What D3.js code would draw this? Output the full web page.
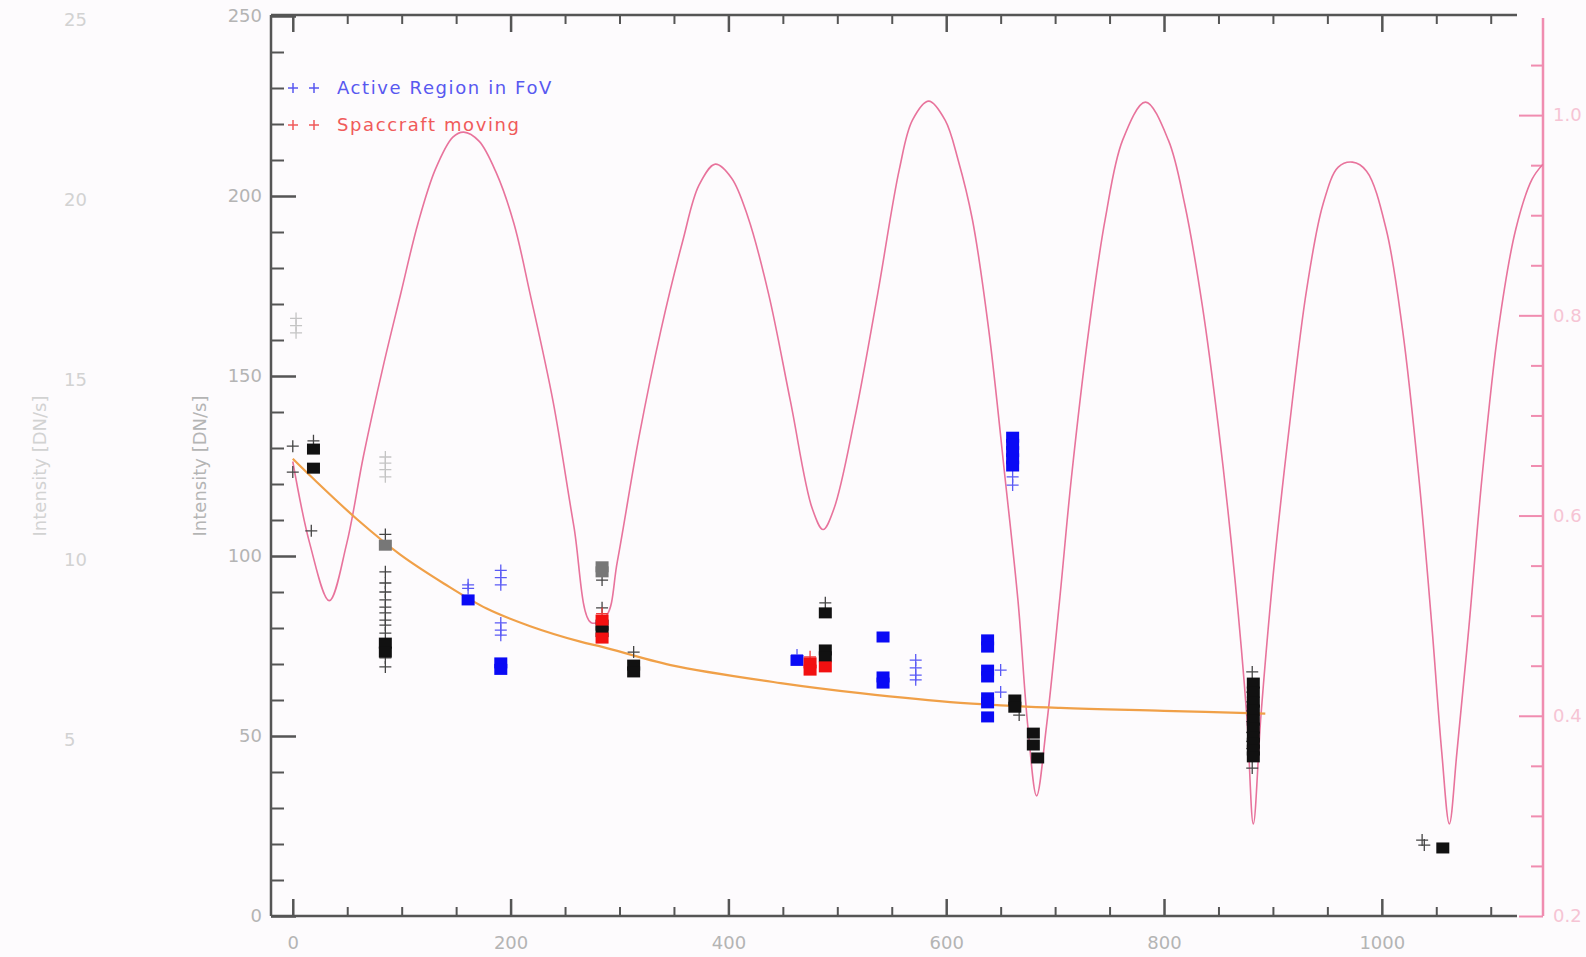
<!DOCTYPE html>
<html><head><meta charset="utf-8">
<script src="https://cdn.jsdelivr.net/npm/d3@7"></script>
<style>
html,body{margin:0;padding:0;background:#fdfbfd;}
svg{display:block;}
text{font-family:"DejaVu Sans",sans-serif;}
</style>
</head><body>
<svg id="c" width="1586" height="957"></svg>
<script>
// ---------- data ----------
const xTickValues = [0, 200, 400, 600, 800, 1000];
const yTickValues = [0, 50, 100, 150, 200, 250];
const rTickValues = [0.2, 0.4, 0.6, 0.8, 1.0];
const legendLabels = ["Active Region in FoV", "Spaccraft moving"];
const yTitle = "Intensity [DN/s]";
const ghostLabels = ["25", "20", "15", "10", "5"];
const ghostValues = [250, 200, 150, 100, 50];

// pink curve on right axis: [x, value]
const pinkCurve = [[0,0.654],[15.6,0.572],[33.5,0.515],[49.5,0.572],[65,0.66],[83,0.749],[99,0.821],[115,0.892],[131,0.946],[147,0.978],[157,0.983],[171,0.974],[187,0.942],[203,0.892],[218,0.821],[239,0.714],[258,0.59],[274,0.493],[288,0.5],[298,0.554],[318,0.679],[338,0.785],[358,0.874],[373,0.93],[388,0.951],[403,0.937],[418,0.898],[437,0.821],[457,0.714],[477,0.607],[487,0.586],[497,0.607],[516,0.697],[537,0.821],[557,0.946],[569,0.995],[584,1.014],[599,0.995],[611,0.955],[624,0.896],[639,0.786],[654,0.638],[666,0.514],[675,0.389],[683,0.32],[692,0.389],[704,0.514],[715,0.638],[731,0.786],[746,0.896],[762,0.975],[783,1.013],[804,0.975],[819,0.911],[835,0.811],[850,0.688],[865,0.538],[876,0.4],[882,0.292],[889,0.4],[900,0.538],[915,0.688],[931,0.826],[946,0.911],[960,0.948],[973,0.953],[986,0.944],[1004,0.886],[1019,0.786],[1034,0.638],[1046,0.489],[1055,0.364],[1062,0.292],[1069,0.364],[1080,0.489],[1092,0.638],[1107,0.786],[1123,0.886],[1138,0.936],[1148,0.951]];

// orange fitted decay
const fitCurve = [[0,127],[17,122],[59,110.2],[99,100.3],[139,92.3],[178,85.4],[218,80.5],[264,76.2],[285,74.7],[347,69.7],[448,64.7],[521,61.9],[613,59.2],[705,57.8],[800,57],[893,56.2]];

const lightPlus = [[3,166],[3,164],[3,162],[85,127.5],[85,125.8],[85,124],[85,122]];
const darkPlus = [[0,130.5],[0,123.3],[17,107],[19,132],[85,106],[85,95.6],[85,92.5],[85,90],[85,87.8],[85,85.8],[85,84.2],[85,82.2],[85,80.8],[85,78.6],[85,71.7],[85,69.2],[284,93.3],[284,85.6],[313,73.3],[489,87],[667,55.8],[881,67.8],[881,62.2],[881,59.5],[881,57],[881,54],[881,51],[881,48.5],[881,46.5],[881,41.1],[1037,21.1],[1039,19.7]];
const graySquare = [[85,103],[284,97],[284,95.6]];
const blackSquare = [[19,129.7],[19,124.4],[85,75.8],[85,73.3],[284,80.8],[284,79],[313,69.7],[313,67.8],[489,84.2],[489,73.9],[489,72],[663,60],[663,58],[680,50.8],[680,47.5],[684,43.9],[882,64.7],[882,62.2],[882,59.4],[882,57.2],[882,54.4],[882,52.2],[882,49.7],[882,48],[882,46.1],[882,44.2],[1056,18.9]];
const bluePlus = [[161,92],[161,91],[191,96],[191,94],[191,92],[191,81.4],[191,79.4],[191,78],[463,72.5],[572,71.1],[572,68.9],[572,66.9],[572,65.6],[650,68.3],[650,62.2],[661,122],[661,119.7]];
const blueSquare = [[161,87.8],[191,70.3],[191,68.5],[463,71],[542,77.5],[542,66.4],[542,64.7],[638,76.7],[638,74.7],[638,68.3],[638,66.4],[638,60.6],[638,59.2],[638,55.3],[661,133],[661,131],[661,129],[661,127],[661,125]];
const redPlus = [[284,84],[475,72]];
const redSquare = [[284,82.2],[284,77.2],[475,70.3],[475,68.3],[489,69.2]];

// ---------- drawing ----------
const svg = d3.select("#c");
const W = 1586, H = 957;
const L = 271, R = 1543, T = 15, B = 916, XAXIS_END = 1517;

const x = d3.scaleLinear().domain([-20, 1148]).range([L, R]);
const y = d3.scaleLinear().domain([0, 250]).range([B, 16]);
const yr = d3.scaleLinear().domain([0.2, 1.1]).range([B, T]);

svg.append("rect").attr("width", W).attr("height", H).attr("fill", "#fdfbfd");

const axisColor = "#555";
const labelColor = "#b4b4b4";

// ghost (echo) labels on far left
svg.selectAll("text.ghost").data(ghostValues).join("text")
  .attr("class", "ghost")
  .attr("x", 64).attr("y", (d) => y(d) + 4).attr("dy", "0.35em")
  .attr("font-size", 18).attr("fill", "#d2d2d2")
  .text((d, i) => ghostLabels[i]);
svg.append("text")
  .attr("transform", `translate(46,${y(125)}) rotate(-90)`)
  .attr("text-anchor", "middle").attr("font-size", 18).attr("fill", "#d2d2d2")
  .text(yTitle);

// axis title
svg.append("text")
  .attr("transform", `translate(206,${y(125)}) rotate(-90)`)
  .attr("text-anchor", "middle").attr("font-size", 18).attr("fill", labelColor)
  .text(yTitle);

// left axis
const gL = svg.append("g").attr("transform", `translate(${L},0)`)
  .call(d3.axisLeft(y).tickValues(yTickValues).tickSizeInner(-25).tickSizeOuter(0).tickPadding(9));
gL.select(".domain").remove();
gL.selectAll(".tick line").attr("stroke", axisColor).attr("stroke-width", 2.5);
gL.selectAll(".tick text").attr("fill", labelColor).attr("font-size", 18).attr("font-family", "DejaVu Sans");
const yMinor = d3.range(0, 251, 10).filter(v => v % 50 !== 0);
svg.append("g").attr("transform", `translate(${L},0)`)
  .call(d3.axisLeft(y).tickValues(yMinor).tickSizeInner(-13).tickSizeOuter(0).tickFormat(""))
  .call(g => g.select(".domain").remove())
  .call(g => g.selectAll(".tick line").attr("stroke", axisColor).attr("stroke-width", 2));

// bottom axis
const gB = svg.append("g").attr("transform", `translate(0,${B})`)
  .call(d3.axisBottom(x).tickValues(xTickValues).tickSizeInner(-17).tickSizeOuter(0).tickPadding(20).tickFormat(d3.format("d")));
gB.select(".domain").remove();
gB.selectAll(".tick line").attr("stroke", axisColor).attr("stroke-width", 2.5);
gB.selectAll(".tick text").attr("fill", labelColor).attr("font-size", 18).attr("font-family", "DejaVu Sans");
const xMinor = d3.range(50, 1101, 50).filter(v => v % 200 !== 0);
svg.append("g").attr("transform", `translate(0,${B})`)
  .call(d3.axisBottom(x).tickValues(xMinor).tickSizeInner(-9).tickSizeOuter(0).tickFormat(""))
  .call(g => g.select(".domain").remove())
  .call(g => g.selectAll(".tick line").attr("stroke", axisColor).attr("stroke-width", 2));

// top axis
svg.append("g").attr("transform", `translate(0,${T})`)
  .call(d3.axisTop(x).tickValues(xTickValues).tickSizeInner(-17).tickSizeOuter(0).tickFormat(""))
  .call(g => g.select(".domain").remove())
  .call(g => g.selectAll(".tick line").attr("stroke", axisColor).attr("stroke-width", 2.5));
svg.append("g").attr("transform", `translate(0,${T})`)
  .call(d3.axisTop(x).tickValues(xMinor).tickSizeInner(-9).tickSizeOuter(0).tickFormat(""))
  .call(g => g.select(".domain").remove())
  .call(g => g.selectAll(".tick line").attr("stroke", axisColor).attr("stroke-width", 2));

// frame lines
svg.append("line").attr("x1", L).attr("x2", L).attr("y1", T).attr("y2", B).attr("stroke", axisColor).attr("stroke-width", 2.5);
svg.append("line").attr("x1", L).attr("x2", XAXIS_END).attr("y1", B).attr("y2", B).attr("stroke", axisColor).attr("stroke-width", 2.5);
svg.append("line").attr("x1", L).attr("x2", XAXIS_END).attr("y1", T).attr("y2", T).attr("stroke", axisColor).attr("stroke-width", 2.5);

// right pink axis
const pinkAxis = "#f08cb0";
const gR = svg.append("g").attr("transform", `translate(${R},0)`)
  .call(d3.axisRight(yr).tickValues(rTickValues).tickSizeInner(-24).tickSizeOuter(0).tickPadding(10).tickFormat(d3.format(".1f")));
gR.select(".domain").remove();
gR.selectAll(".tick line").attr("stroke", pinkAxis).attr("stroke-width", 2);
gR.selectAll(".tick text").attr("fill", "#f6c4d4").attr("font-size", 18).attr("font-family", "DejaVu Sans");
const rMinor = d3.range(0.25, 1.1, 0.05).filter(v => Math.abs(v * 5 - Math.round(v * 5)) > 1e-6);
svg.append("g").attr("transform", `translate(${R},0)`)
  .call(d3.axisRight(yr).tickValues(rMinor).tickSizeInner(-12).tickSizeOuter(0).tickFormat(""))
  .call(g => g.select(".domain").remove())
  .call(g => g.selectAll(".tick line").attr("stroke", pinkAxis).attr("stroke-width", 2));
svg.append("line").attr("x1", R).attr("x2", R).attr("y1", T + 3).attr("y2", B).attr("stroke", pinkAxis).attr("stroke-width", 2.5);

// pink curve
svg.append("clipPath").attr("id", "plotclip").append("rect")
  .attr("x", L).attr("y", T).attr("width", R - L).attr("height", B - T);
svg.append("path").datum(pinkCurve)
  .attr("clip-path", "url(#plotclip)")
  .attr("fill", "none").attr("stroke", "#e8739c").attr("stroke-width", 1.6)
  .attr("d", d3.line().x(d => x(d[0])).y(d => yr(d[1])).curve(d3.curveCatmullRom.alpha(0.5)));

// orange fit
svg.append("path").datum(fitCurve)
  .attr("fill", "none").attr("stroke", "#f0a048").attr("stroke-width", 2.2)
  .attr("d", d3.line().x(d => x(d[0])).y(d => y(d[1])).curve(d3.curveCatmullRom.alpha(0.5)));

// markers
const plusPath = (s) => `M${-s},0H${s}M0,${-s}V${s}`;
function drawPlus(data, color, s, w) {
  svg.append("g").selectAll("path").data(data).join("path")
    .attr("transform", d => `translate(${x(d[0])},${y(d[1])})`)
    .attr("d", plusPath(s)).attr("fill", "none").attr("stroke", color).attr("stroke-width", w);
}
function drawSquare(data, color) {
  svg.append("g").selectAll("rect").data(data).join("rect")
    .attr("x", d => x(d[0]) - 6.5).attr("y", d => y(d[1]) - 5.5)
    .attr("width", 13).attr("height", 11).attr("fill", color);
}
drawPlus(lightPlus, "#c4c4c4", 6, 1.3);
drawPlus(darkPlus, "#444", 6, 1.3);
drawPlus(bluePlus, "#5a5af5", 6, 1.3);
drawPlus(redPlus, "#f03c3c", 6, 1.3);
drawSquare(graySquare, "#777");
drawSquare(blackSquare, "#111");
drawSquare(blueSquare, "#0a0af5");
drawSquare(redSquare, "#f21010");

// legend
const legendColors = ["#5858f0", "#f05a5a"];
const legendVals = [230, 219.7];
legendLabels.forEach((lab, i) => {
  const ly = y(legendVals[i]);
  [293, 314].forEach(px => {
    svg.append("path").attr("transform", `translate(${px},${ly})`)
      .attr("d", plusPath(5)).attr("fill", "none").attr("stroke", legendColors[i]).attr("stroke-width", 1.5);
  });
  svg.append("text").attr("x", 337).attr("y", ly).attr("dy", "0.35em")
    .attr("font-size", 18).attr("letter-spacing", "1.6px").attr("fill", legendColors[i]).text(lab);
});
</script>
</body></html>
